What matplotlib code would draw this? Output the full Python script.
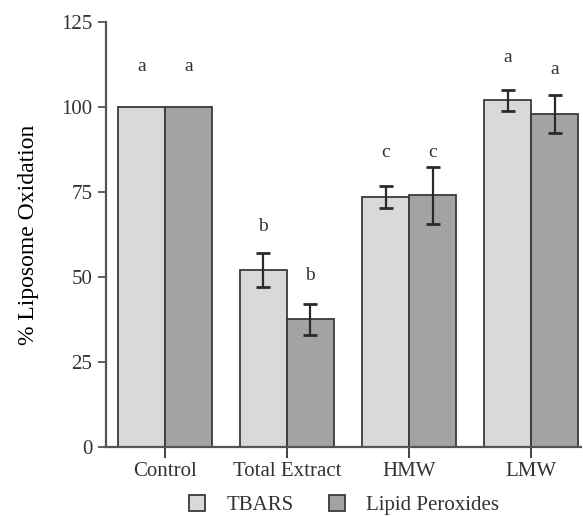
import numpy as np
import matplotlib
matplotlib.use("Agg")
import matplotlib.pyplot as plt

# data
groups = ["Control", "Total Extract", "HMW", "LMW"]
tbars = [100, 52, 73.5, 102]
tbars_err = [0, 5, 3.3, 3]
lipid = [100, 37.5, 74, 98]
lipid_err = [0, 4.5, 8.5, 5.7]
tbars_letters = ["a", "b", "c", "a"]
lipid_letters = ["a", "b", "c", "a"]
tbars_letter_y = [112, 65, 86.5, 114.5]
lipid_letter_y = [112, 50.5, 86.5, 111]

plt.rcParams['font.family'] = ['Liberation Serif', 'DejaVu Serif']
plt.rcParams['text.color'] = '#333333'
plt.rcParams['xtick.labelcolor'] = '#333333'
plt.rcParams['ytick.labelcolor'] = '#333333'

fig = plt.figure(figsize=(5.83, 5.16), dpi=100)
ax = fig.add_axes([0.182, 0.134, 0.815, 0.823])

x = np.arange(len(groups))
w = 0.385
edge = '#3a3a3a'
ax.bar(x - w / 2, tbars, w, color='#d9d9d9', edgecolor=edge, linewidth=1.3, label='TBARS')
ax.bar(x + w / 2, lipid, w, color='#a3a3a3', edgecolor=edge, linewidth=1.3, label='Lipid Peroxides')

# error bars only where there is spread
for xs, vals, errs in [(x - w / 2, tbars, tbars_err), (x + w / 2, lipid, lipid_err)]:
    for xi, v, e in zip(xs, vals, errs):
        if e > 0:
            ax.errorbar(xi, v, yerr=e, fmt='none', ecolor='#2a2a2a', elinewidth=1.6,
                        capsize=5, capthick=2)

for xi, t, yy in zip(x - w / 2, tbars_letters, tbars_letter_y):
    ax.text(xi, yy, t, ha='center', va='center', fontsize=14)
for xi, t, yy in zip(x + w / 2, lipid_letters, lipid_letter_y):
    ax.text(xi, yy, t, ha='center', va='center', fontsize=14)

ax.set_xlim(-0.48, 3.41)
ax.set_ylim(0, 125)
ax.set_yticks([0, 25, 50, 75, 100, 125])
ax.set_xticks(x)
ax.set_xticklabels(groups, fontsize=15)
ax.tick_params(axis='y', labelsize=15, length=6, width=1.3, color='#555555', pad=4)
ax.tick_params(axis='x', length=8, width=1.3, color='#333333', pad=3)
ax.set_ylabel('% Liposome Oxidation', fontsize=17, labelpad=16)

for s in ['top', 'right']:
    ax.spines[s].set_visible(False)
for s in ['left', 'bottom']:
    ax.spines[s].set_linewidth(1.6)
    ax.spines[s].set_color('#555555')

fig.legend(loc='center', bbox_to_anchor=(0.59, 0.021), ncol=2, frameon=False,
           fontsize=15, handlelength=0.8, handleheight=0.8, columnspacing=1.7,
           handletextpad=1.0, borderpad=0)

fig.savefig('out.png', dpi=100)
